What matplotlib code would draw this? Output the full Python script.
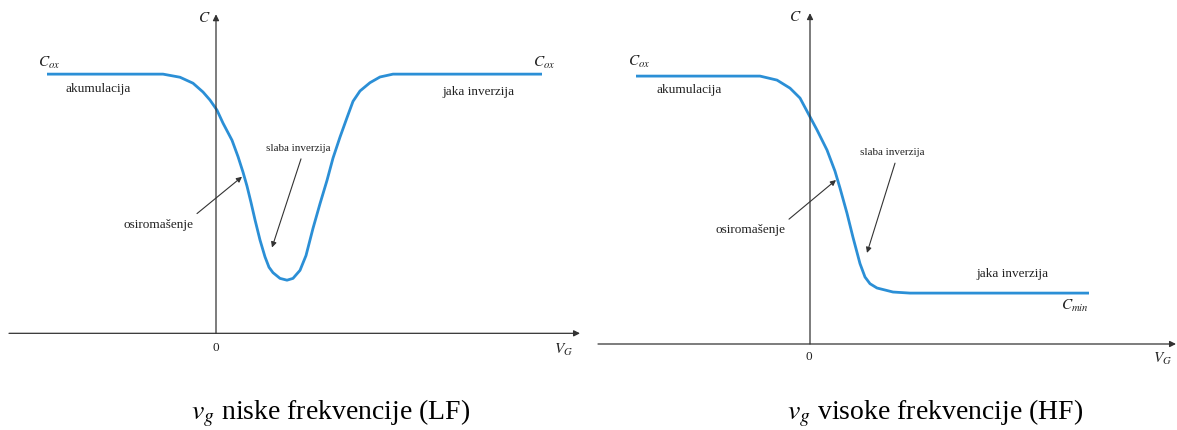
import matplotlib
matplotlib.use("Agg")
import matplotlib.pyplot as plt

plt.rcParams['font.family'] = ['Liberation Serif', 'DejaVu Serif']
plt.rcParams['mathtext.fontset'] = 'stix'

# LF curve: gate voltage (arb. units) and C/Cox
lf_vg = [-1.69, -0.53, -0.36, -0.23, -0.13, -0.06, 0.01, 0.07, 0.16, 0.22, 0.27,
         0.31, 0.35, 0.39, 0.44, 0.49, 0.53, 0.57, 0.64, 0.71, 0.77, 0.84, 0.90,
         0.97, 1.04, 1.11, 1.17, 1.24, 1.31, 1.37, 1.44, 1.54, 1.64, 1.77, 3.26]
lf_c = [1.0, 1.0, 0.988, 0.965, 0.931, 0.900, 0.861, 0.811, 0.745, 0.682, 0.622,
        0.568, 0.505, 0.438, 0.360, 0.295, 0.255, 0.234, 0.212, 0.205, 0.212, 0.243, 0.300,
        0.405, 0.500, 0.590, 0.676, 0.757, 0.832, 0.895, 0.935, 0.967, 0.989, 1.0, 1.0]

# HF curve
hf_vg = [-1.74, -0.50, -0.33, -0.20, -0.10, -0.02, 0.07, 0.17, 0.25, 0.30, 0.37,
         0.43, 0.50, 0.55, 0.60, 0.67, 0.83, 1.00, 2.79]
hf_c = [1.0, 1.0, 0.985, 0.955, 0.918, 0.862, 0.799, 0.724, 0.645, 0.582, 0.488,
        0.398, 0.300, 0.250, 0.225, 0.209, 0.194, 0.190, 0.190]

blue = '#2b8fd6'
axc = '#333333'

fig = plt.figure(figsize=(11.77, 4.30), dpi=100)
axL = fig.add_axes([0, 0, 590 / 1177, 1])
axR = fig.add_axes([590 / 1177, 0, 587 / 1177, 1])
axL.set_xlim(-2.16, 3.74)
axL.set_ylim(-0.373, 1.286)
axR.set_xlim(-2.20, 3.67)
axR.set_ylim(-0.321, 1.284)
for ax in (axL, axR):
    ax.axis('off')


def axes_arrows(ax, xmin, xmax, ytop):
    ap = dict(arrowstyle='-|>', color=axc, lw=0.9, mutation_scale=9, shrinkA=0, shrinkB=0)
    ax.annotate('', xy=(xmax, 0), xytext=(xmin, 0), arrowprops=ap)
    ax.annotate('', xy=(0, ytop), xytext=(0, 0), arrowprops=ap)


def pointer(ax, start, end):
    ax.annotate('', xy=end, xytext=start,
                arrowprops=dict(arrowstyle='-|>', color=axc, lw=0.8,
                                mutation_scale=8, shrinkA=0, shrinkB=0))


lab = dict(fontsize=9.5, color='#222222', ha='center', va='center')
small = dict(fontsize=8, color='#222222', ha='center', va='center')
ital = dict(fontsize=11, color='#222222', ha='center', va='center')

# left panel (LF)
axes_arrows(axL, -2.07, 3.64, 1.231)
axL.plot(lf_vg, lf_c, color=blue, lw=2.0, solid_capstyle='butt', solid_joinstyle='round')
axL.text(-1.67, 1.042, r'$C_{ox}$', **ital)
axL.text(3.28, 1.042, r'$C_{ox}$', **ital)
axL.text(-1.18, 0.942, 'akumulacija', **lab)
axL.text(2.62, 0.931, 'jaka inverzija', **lab)
axL.text(0.82, 0.712, 'slaba inverzija', **small)
pointer(axL, (0.85, 0.673), (0.56, 0.331))
axL.text(-0.57, 0.419, 'osiromašenje', **lab)
pointer(axL, (-0.19, 0.462), (0.26, 0.604))
axL.text(-0.12, 1.215, r'$C$', **ital)
axL.text(0, -0.058, '0', **lab)
axL.text(3.47, -0.065, r'$V_G$', **ital)

# right panel (HF)
axes_arrows(axR, -2.12, 3.66, 1.235)
axR.plot(hf_vg, hf_c, color=blue, lw=2.0, solid_capstyle='butt', solid_joinstyle='round')
axR.text(-1.71, 1.052, r'$C_{ox}$', **ital)
axR.text(-1.21, 0.948, 'akumulacija', **lab)
axR.text(0.82, 0.716, 'slaba inverzija', **small)
pointer(axR, (0.85, 0.675), (0.57, 0.34))
axR.text(-0.59, 0.425, 'osiromašenje', **lab)
pointer(axR, (-0.21, 0.466), (0.26, 0.612))
axR.text(2.02, 0.261, 'jaka inverzija', **lab)
axR.text(2.65, 0.142, r'$C_{min}$', **ital)
axR.text(-0.15, 1.22, r'$C$', **ital)
axR.text(-0.01, -0.049, '0', **lab)
axR.text(3.52, -0.056, r'$V_G$', **ital)

fig.text(331 / 1177, 1 - 413 / 430, r'$v_g$ niske frekvencije (LF)',
         fontsize=20, ha='center', va='center')
fig.text(935 / 1177, 1 - 413 / 430, r'$v_g$ visoke frekvencije (HF)',
         fontsize=20, ha='center', va='center')

fig.savefig('out.png', dpi=100)
